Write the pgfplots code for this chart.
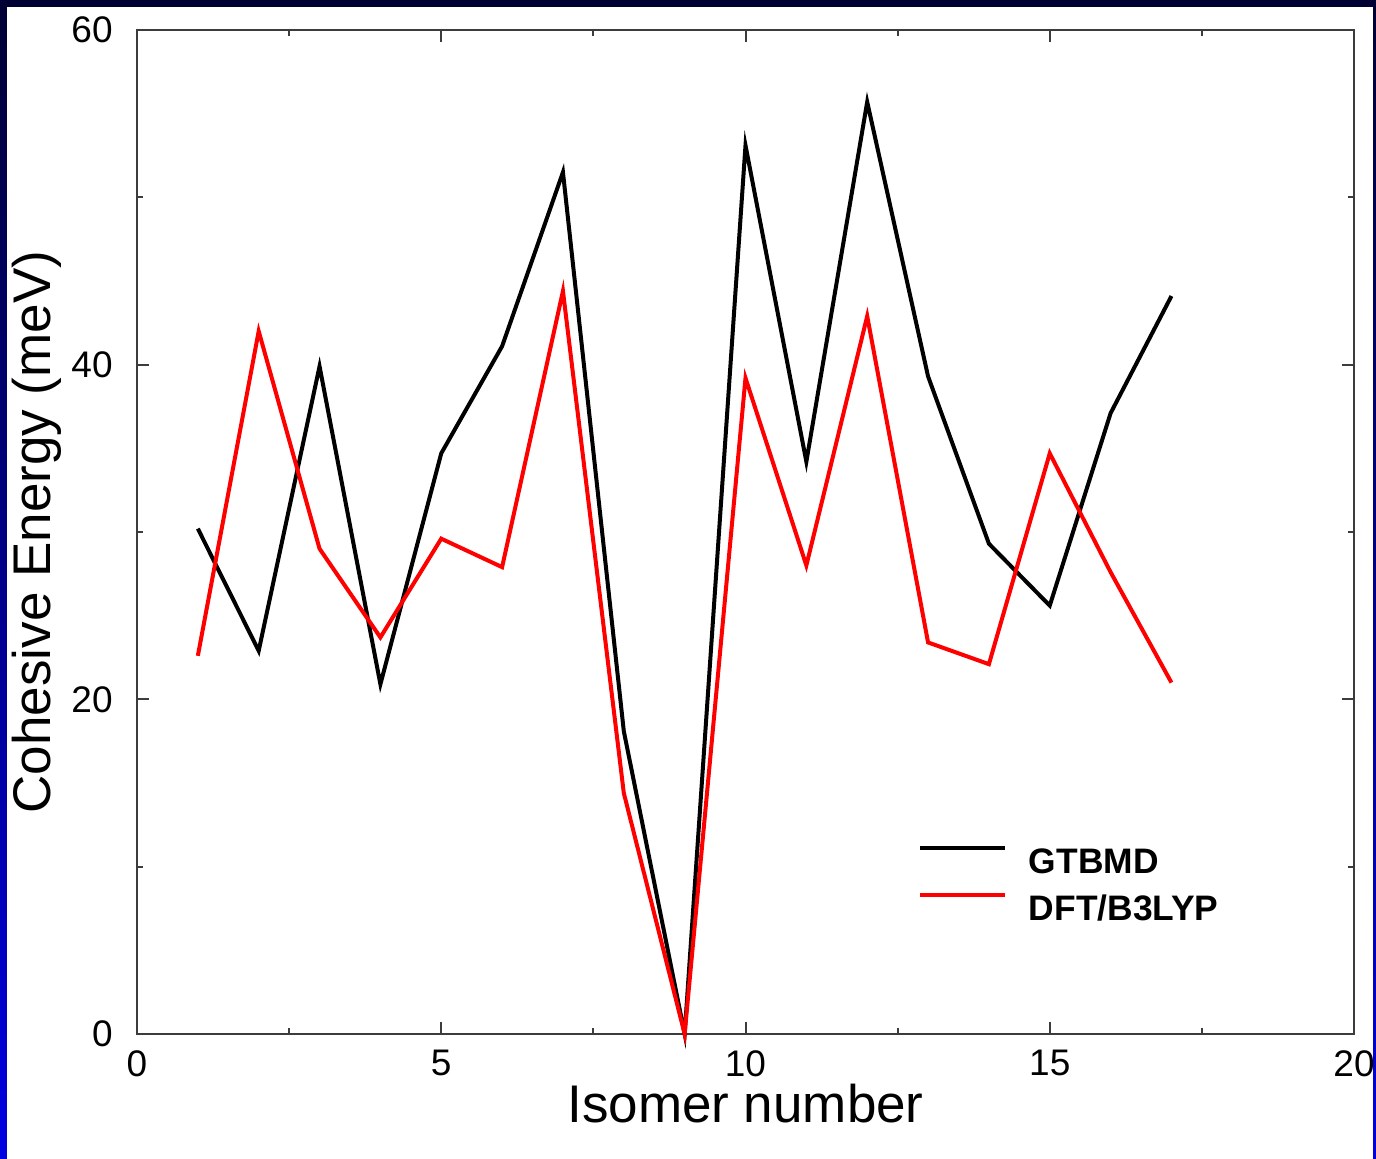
\documentclass[border=0pt]{standalone}
\usepackage{pgfplots}
\pgfplotsset{compat=1.18}
\usepackage{fontspec}
\setmainfont{Liberation Sans}
\definecolor{navytop}{RGB}{0,0,51}
\definecolor{leftbot}{RGB}{0,0,225}
\definecolor{axgray}{RGB}{60,60,60}
\begin{document}
\begin{tikzpicture}
\useasboundingbox (0,0) rectangle (688pt,579.5pt);
\fill[white] (0,0) rectangle (688pt,579.5pt);
\shade[top color=navytop, bottom color=leftbot] (0,0) rectangle (3.4pt,579.5pt);
\shade[top color=navytop, bottom color=leftbot] (686.6pt,0) rectangle (688pt,579.5pt);
\fill[navytop] (0,575.8pt) rectangle (688pt,579.5pt);
\begin{axis}[
  at={(68.5pt,62.5pt)}, anchor=south west,
  width=608.5pt, height=502pt, scale only axis,
  xmin=0, xmax=20, ymin=0, ymax=60,
  clip=false,
  axis line style={axgray, line width=1pt},
  tick style={axgray, line width=1pt},
  major tick length=6pt, minor tick length=3pt,
  tick align=inside,
  xtick={0,5,10,15,20}, minor xtick={2.5,7.5,12.5,17.5},
  ytick={0,20,40,60}, minor ytick={10,30,50},
  /pgf/number format/assume math mode=true,
  tick label style={font=\fontsize{18.5}{21}\selectfont, inner sep=0pt},
  xticklabel style={anchor=north, yshift=-8pt, text depth=0pt},
  yticklabel style={anchor=east, xshift=-12pt},
  xlabel={Isomer number},
  ylabel={Cohesive Energy (meV)},
  label style={font=\fontsize{26.5}{30}\selectfont, inner sep=0pt},
  xlabel style={at={(axis description cs:0.5,0)}, anchor=base, yshift=-44.5pt, text height=19pt},
  ylabel style={at={(axis description cs:-0.0822,0.5)}, anchor=center},
  legend style={at={(axis description cs:0.6417,0.15)}, anchor=west, draw=none, fill=none,
    inner sep=0pt, outer sep=0pt, column sep=11pt, row sep=9.9pt,
    nodes={inner sep=0pt, font=\bfseries\fontsize{17.7}{20}\selectfont, text height=12.6pt, text depth=0pt}},
  legend cell align=left,
  legend image code/.code={\draw[#1] (0pt,6.25pt) -- (42.5pt,6.25pt);},
]
\addplot[black, line width=2pt] coordinates {
(1,30.2) (2,22.9) (3,39.9) (4,20.9) (5,34.7) (6,41.1) (7,51.5) (8,18.1) (9,0)
(10,53.1) (11,34.2) (12,55.7) (13,39.3) (14,29.3) (15,25.6) (16,37.1) (17,44.1)};
\addlegendentry{GTBMD}
\addplot[red, line width=2pt] coordinates {
(1,22.6) (2,42.0) (3,29.0) (4,23.7) (5,29.6) (6,27.9) (7,44.4) (8,14.4) (9,0)
(10,39.2) (11,28.0) (12,42.9) (13,23.4) (14,22.1) (15,34.7) (16,27.6) (17,21.0)};
\addlegendentry{DFT/B3LYP}
\end{axis}
\end{tikzpicture}
\end{document}
